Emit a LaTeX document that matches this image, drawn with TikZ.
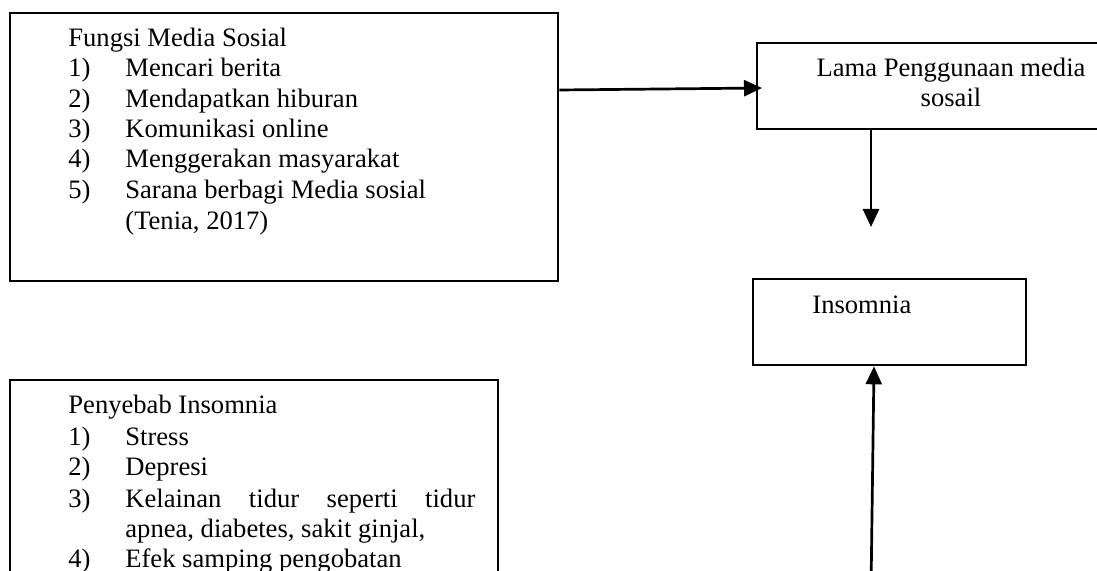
\documentclass[tikz,border=0pt]{standalone}
\usepackage{fontspec}
\setmainfont{Liberation Serif}
\usetikzlibrary{arrows.meta,calc}
\newcommand{\itm}[2]{\makebox[28.5pt][l]{#1}#2}
\begin{document}
\begin{tikzpicture}[x=0.5pt,y=-0.5pt,
  box/.style={draw=black,line width=1.15pt,inner sep=0pt,anchor=north west},
  txt/.style={anchor=base west,inner sep=0pt,font=\fontsize{13.3}{15}\selectfont},
  ctxt/.style={anchor=base,inner sep=0pt,font=\fontsize{13.3}{15}\selectfont},
  conn/.style={line width=1.35pt,-{Triangle[length=9pt,width=8pt]}}]
\clip (0,0) rectangle (1097,571);
\fill[white] (0,0) rectangle (1097,571);
% boxes
\node[box,minimum width=274pt,minimum height=134pt] (b1) at (9,12) {};
\node[box,minimum width=182pt,minimum height=43pt] (b2) at (756,42) {};
\node[box,minimum width=136.5pt,minimum height=43pt] (b3) at (752,278) {};
\node[box,minimum width=244pt,minimum height=120.5pt] (b4) at (9,379) {};
% box 1 text
\node[txt] (f0) at (68,47) {Fungsi Media Sosial};
\node[txt] (f1) at (68,77) {\itm{1)}{Mencari berita}};
\node[txt] (f2) at (68,108) {\itm{2)}{Mendapatkan hiburan}};
\node[txt] (f3) at (68,138) {\itm{3)}{Komunikasi online}};
\node[txt] (f4) at (68,168) {\itm{4)}{Menggerakan masyarakat}};
\node[txt] (f5) at (68,199) {\itm{5)}{Sarana berbagi Media sosial}};
\node[txt] (f6) at (125,230) {(Tenia, 2017)};
% box 2 text
\node[ctxt] (l1) at (951,77) {Lama Penggunaan media};
\node[ctxt] (l2) at (951,107) {sosail};
% box 3 text
\node[txt] (i1) at (812,314) {Insomnia};
% box 4 text
\node[txt] (p0) at (68,414) {Penyebab Insomnia};
\node[txt] (p1) at (68,445) {\itm{1)}{Stress}};
\node[txt] (p2) at (68,475) {\itm{2)}{Depresi}};
\node[txt] (p3) at (68,507) {\itm{3)}{\makebox[175pt][s]{Kelainan tidur seperti tidur}}};
\node[txt] (p3b) at (125,537) {apnea, diabetes, sakit ginjal,};
\node[txt] (p4) at (68,567) {\itm{4)}{Efek samping pengobatan}};
% connectors
\coordinate (a2e) at (871,227);
\coordinate (a3s) at (871,590);
\draw[conn] ($(b1.north east)+(0,78)$) -- ($(b2.north west)+(6,46)$);
\draw[conn] ($(b2.south west)+(115,0)$) -- (a2e);
\draw[conn] (a3s) -- ($(b3.south west)+(122,0)$);
\end{tikzpicture}
\end{document}
